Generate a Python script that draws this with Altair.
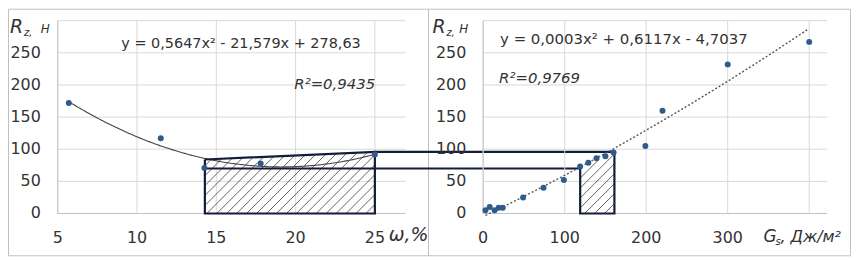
import altair as alt
import pandas as pd

# ---------------- data ----------------
w_moisture = [5.7, 11.5, 14.25, 17.8, 25.0]                 # ω, %
rz_left = [172, 117, 71, 78, 92]                             # Rz, Н
g_energy = [2.8, 8, 14, 19, 24, 49, 74, 99, 119, 129, 139, 150, 160, 199, 220, 300, 400]  # Gs, Дж/м²
rz_right = [5, 10, 5, 9, 9, 25, 40, 52, 73, 79, 86, 89, 95, 105, 160, 232, 267]

left_coef = (0.5647, -21.579, 278.63)
right_coef = (0.0003, 0.6117, -4.7037)
left_eq = "y = 0,5647x² - 21,579x + 278,63"
left_r2 = "R²=0,9435"
right_eq = "y = 0,0003x² + 0,6117x - 4,7037"
right_r2 = "R²=0,9769"

left_grid_x = [5, 10, 15, 20, 25]
left_labels = [5, 10, 15, 20, 25]
right_grid_x = [0, 100, 200, 300, 400]
right_labels = [0, 100, 200, 300]
y_ticks = [0, 50, 100, 150, 200, 250]
y_grid = [0, 50, 100, 150, 200, 250, 300]

# highlighted zones and the levels that link them
left_zone_x = [14.28, 25.0]
left_zone_top = [84, 96]
right_zone_x = [119, 161]
right_zone_top = [70, 96]
low_level, high_level = 70, 96

# ---------------- layout / style ----------------
W, H = 774, 194
LDOM, LRNG = [5, 26.94], [0, 350]
RDOM, RRNG = [0, 422], [428, 774]
YDOM = [0, 300]
FONT = "DejaVu Sans"
GRID = "#d9d9d9"
AXISC = "#c4c4c4"
TXT = "#333333"
PT = "#2f5b8a"
NAVY = "#141c3c"


def lin(dom, rng, v):
    return rng[0] + (v - dom[0]) / (dom[1] - dom[0]) * (rng[1] - rng[0])


def inv(dom, rng, p):
    return dom[0] + (p - rng[0]) / (rng[1] - rng[0]) * (dom[1] - dom[0])


def hatch(dom, rng, zx, ztop, step):
    xa, xb = lin(dom, rng, zx[0]), lin(dom, rng, zx[1])
    ua, ub = ztop[0] / YDOM[1] * H, ztop[1] / YDOM[1] * H
    s = (ub - ua) / (xb - xa)
    rows = []
    k = int((xa - ua) // step)
    while k * step < xb:
        cc = k * step
        p0 = max(xa, cc)
        u0 = p0 - cc
        ptop = (cc + ua - s * xa) / (1 - s)
        p1 = min(xb, ptop)
        u1 = p1 - cc
        if p1 > p0 + 0.5 and u0 < ua + s * (p0 - xa):
            rows.append({"x": inv(dom, rng, p0), "y": u0 / H * YDOM[1],
                         "x2": inv(dom, rng, p1), "y2": u1 / H * YDOM[1]})
        k += 1
    return pd.DataFrame(rows)


YS = alt.Scale(domain=YDOM, nice=False, zero=False)


def panel(dom, rng, xv, yv, coef, tspan, tstep, gridx, labels, zx, ztop, outline,
          dash, hstep, connectors):
    XS = alt.Scale(domain=dom, range=rng, nice=False, zero=False)
    hgrid = alt.Chart(pd.DataFrame({"v": y_grid})).mark_rule(color=GRID, strokeWidth=1).encode(
        y=alt.Y("v:Q", scale=YS, axis=None),
        x=alt.X(datum=dom[0], scale=XS, axis=None),
        x2=alt.X2(datum=dom[1]))
    vgrid = alt.Chart(pd.DataFrame({"v": gridx})).mark_rule(color=GRID, strokeWidth=1).encode(
        x=alt.X("v:Q", scale=XS, axis=None),
        y=alt.Y(datum=YDOM[0], scale=YS, axis=None),
        y2=alt.Y2(datum=YDOM[1]))
    base = alt.Chart(pd.DataFrame({"v": [0]})).mark_rule(color=AXISC, strokeWidth=1).encode(
        y=alt.Y("v:Q", scale=YS, axis=None),
        x=alt.X(datum=dom[0], scale=XS, axis=None),
        x2=alt.X2(datum=dom[1]))
    vaxis = alt.Chart(pd.DataFrame({"v": [dom[0]]})).mark_rule(color=AXISC, strokeWidth=1).encode(
        x=alt.X("v:Q", scale=XS, axis=None),
        y=alt.Y(datum=YDOM[0], scale=YS, axis=None),
        y2=alt.Y2(datum=YDOM[1]))
    hdf = hatch(dom, rng, zx, ztop, hstep)
    hat = alt.Chart(hdf).mark_rule(color="#3a3a3a", strokeWidth=0.8).encode(
        x=alt.X("x:Q", scale=XS, axis=None), y=alt.Y("y:Q", scale=YS, axis=None),
        x2="x2:Q", y2="y2:Q")
    a, b, c = coef
    if dash:
        tmark = alt.MarkDef(type="line", color="#555555", strokeWidth=1.4, strokeDash=[2, 2])
    else:
        tmark = alt.MarkDef(type="line", color="#444444", strokeWidth=1.1)
    trend = alt.Chart(alt.sequence(tspan[0], tspan[1], tstep, as_="x")).transform_calculate(
        y=f"{a}*datum.x*datum.x + ({b})*datum.x + ({c})"
    ).mark_line().encode(
        x=alt.X("x:Q", scale=XS, axis=None), y=alt.Y("y:Q", scale=YS, axis=None))
    trend.mark = tmark
    odf = pd.DataFrame({"x": [p[0] for p in outline], "y": [p[1] for p in outline],
                        "o": list(range(len(outline)))})
    out = alt.Chart(odf).mark_line(color=NAVY, strokeWidth=2.2).encode(
        x=alt.X("x:Q", scale=XS, axis=None), y=alt.Y("y:Q", scale=YS, axis=None),
        order="o:Q")
    layers = [hgrid, vgrid, base, vaxis, hat, trend, out]
    for (cx, cy, px_end) in connectors:
        layers.append(alt.Chart(pd.DataFrame({"v": [cy]})).mark_rule(color=NAVY, strokeWidth=2.2).encode(
            x=alt.X(datum=cx, scale=XS, axis=None), x2=alt.value(px_end),
            y=alt.Y("v:Q", scale=YS, axis=None)))
    pts = alt.Chart(pd.DataFrame({"x": xv, "y": yv})).mark_circle(size=36, color=PT, opacity=1).encode(
        x=alt.X("x:Q", scale=XS, axis=None),
        y=alt.Y("y:Q", scale=YS, axis=None))
    layers.append(pts)
    # tick labels, placed through the panel's scales
    xl = alt.Chart(pd.DataFrame({"v": labels, "lab": [str(t) for t in labels]})).mark_text(
        font=FONT, fontSize=16, color=TXT, align="center", baseline="alphabetic", dy=30).encode(
        x=alt.X("v:Q", scale=XS, axis=None), y=alt.Y(datum=0, scale=YS, axis=None), text="lab:N")
    yl = alt.Chart(pd.DataFrame({"v": y_ticks, "lab": [str(t) for t in y_ticks]})).mark_text(
        font=FONT, fontSize=16, color=TXT, align="right", baseline="middle", dx=-17).encode(
        y=alt.Y("v:Q", scale=YS, axis=None), x=alt.X(datum=dom[0], scale=XS, axis=None), text="lab:N")
    layers += [xl, yl]
    return alt.layer(*layers)


left = panel(LDOM, LRNG, w_moisture, rz_left, left_coef, (w_moisture[0], w_moisture[-1] + 0.01), 0.1,
             left_grid_x, left_labels, left_zone_x, left_zone_top,
             [(left_zone_x[0], left_zone_top[0]), (left_zone_x[0], 0), (left_zone_x[1], 0),
              (left_zone_x[1], left_zone_top[1]), (left_zone_x[0], left_zone_top[0])],
             False, 10,
             [(left_zone_x[1], high_level, lin(RDOM, RRNG, right_zone_x[1])),
              (left_zone_x[0], low_level, lin(RDOM, RRNG, right_zone_x[0]))])

right = panel(RDOM, RRNG, g_energy, rz_right, right_coef, (g_energy[0], g_energy[-1] + 0.5), 2,
              right_grid_x, right_labels, right_zone_x, right_zone_top,
              [(right_zone_x[0], right_zone_top[0]), (right_zone_x[0], 0), (right_zone_x[1], 0),
               (right_zone_x[1], right_zone_top[1])],
              True, 10, [])

# frames
one = pd.DataFrame({"t": [""]})
frames = [
    alt.Chart(one).mark_rect(fillOpacity=0, stroke="#c0c0c0", strokeWidth=1).encode(
        x=alt.value(-49.5), x2=alt.value(373), y=alt.value(-11.5), y2=alt.value(236.5)),
    alt.Chart(one).mark_rect(fillOpacity=0, stroke="#c0c0c0", strokeWidth=1).encode(
        x=alt.value(373), x2=alt.value(797.5), y=alt.value(-11.5), y2=alt.value(236.5)),
]


def label(text, x, y, size, italic=False, align="left"):
    return alt.Chart(pd.DataFrame({"t": [text]})).mark_text(
        font=FONT, fontSize=size, fontStyle="italic" if italic else "normal",
        color=TXT, align=align, baseline="alphabetic").encode(
        x=alt.value(x), y=alt.value(y), text="t:N")


texts = [
    label("R", -48, 12, 19, True), label("z,", -34, 15, 10, True), label("Н", -17, 12, 12, True),
    label("R", 377, 12, 19, True), label("z,", 391, 15, 10, True), label("Н", 404, 12, 12, True),
    label("ω,%", 333, 222, 19, True),
    label("G", 710, 223, 17, True), label("s", 722, 226, 10, True), label(", Дж/м²", 727, 223, 16, True),
    label(left_eq, 64, 28, 14.5), label(left_r2, 238, 69, 15, True),
    label(right_eq, 445, 23, 15), label(right_r2, 444, 63, 15, True),
]

chart = alt.layer(*frames, left, right, *texts).resolve_scale(
    x="independent", y="independent"
).properties(
    width=W, height=H, autosize="none",
    padding={"left": 50, "top": 12, "right": 24, "bottom": 43},
).configure_view(strokeWidth=0)

chart.save("out.html", embed_options={"renderer": "svg", "actions": False})
